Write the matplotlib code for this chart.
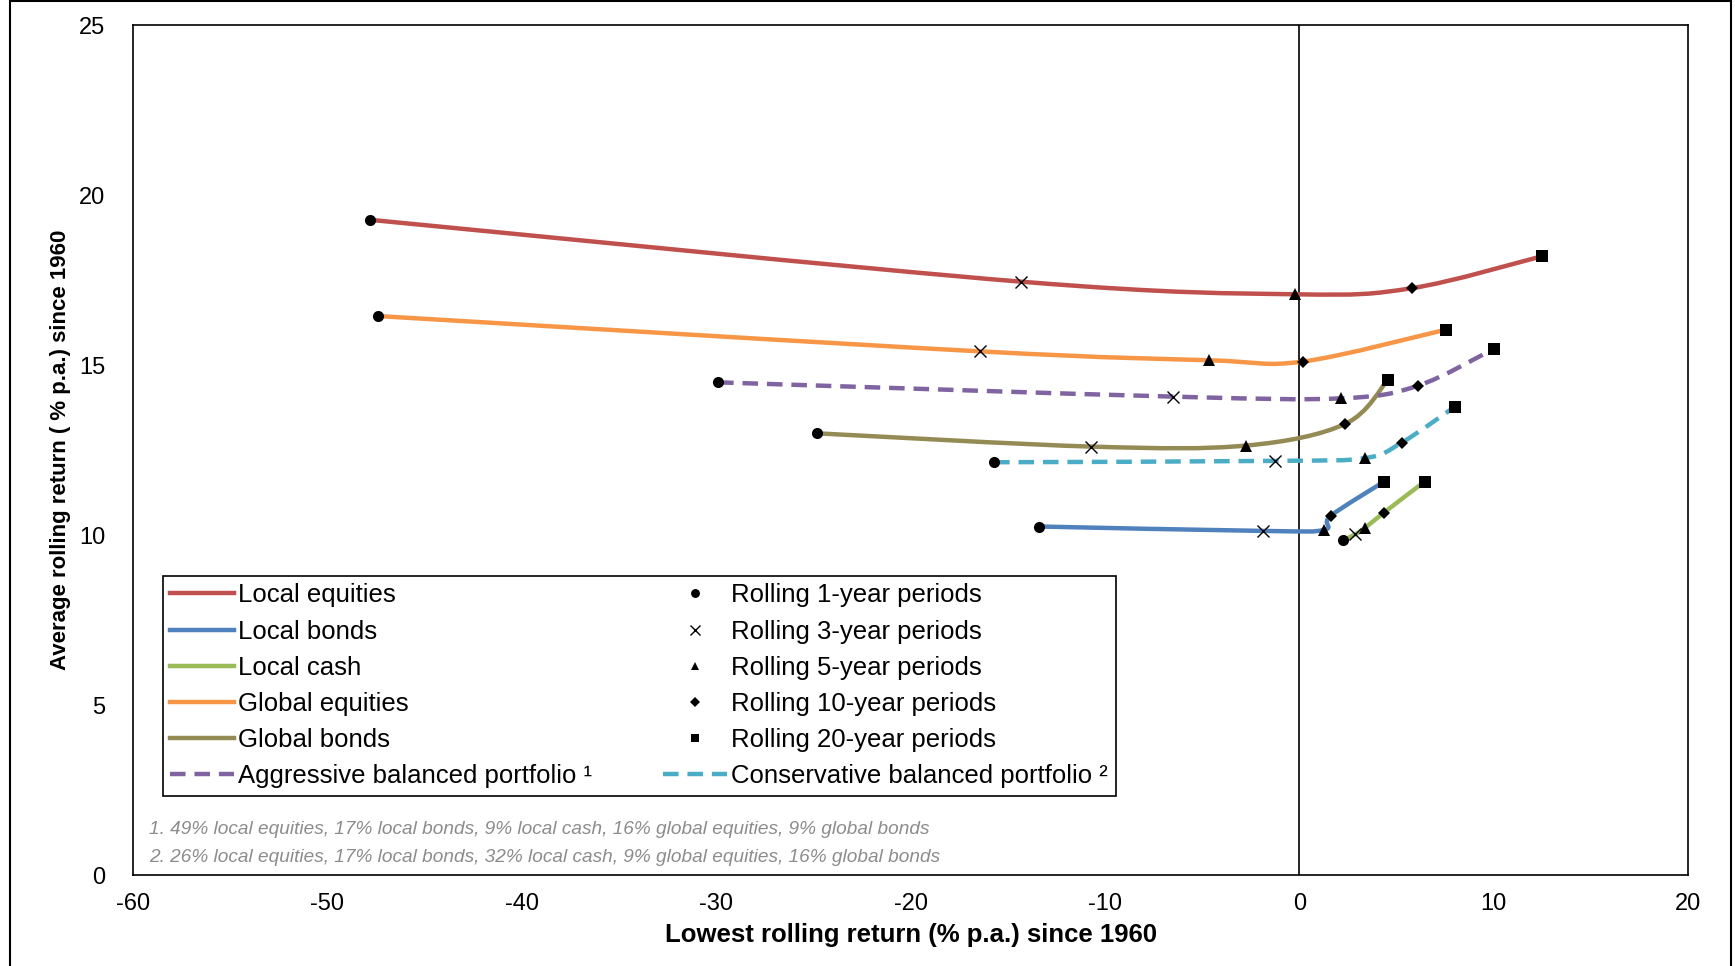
import numpy as np
import matplotlib.pyplot as plt
from matplotlib.path import Path
from matplotlib.patches import PathPatch, Rectangle
from matplotlib.lines import Line2D

# Points per series: rolling 1, 3, 5, 10 and 20-year periods
# x = lowest rolling return, y = average rolling return
local_equities_x = [-47.8, -14.3, -0.2, 5.8, 12.5]
local_equities_y = [19.27, 17.45, 17.08, 17.26, 18.2]
local_bonds_x = [-13.4, -1.84, 1.27, 1.61, 4.36]
local_bonds_y = [10.25, 10.12, 10.15, 10.56, 11.57]
local_cash_x = [2.26, 2.88, 3.36, 4.36, 6.45]
local_cash_y = [9.85, 10.02, 10.2, 10.66, 11.57]
global_equities_x = [-47.4, -16.4, -4.65, 0.17, 7.55]
global_equities_y = [16.44, 15.4, 15.14, 15.1, 16.04]
global_bonds_x = [-24.8, -10.7, -2.75, 2.37, 4.55]
global_bonds_y = [12.99, 12.6, 12.63, 13.27, 14.56]
aggressive_x = [-29.9, -6.5, 2.16, 6.1, 10.0]
aggressive_y = [14.49, 14.07, 14.02, 14.39, 15.47]
conservative_x = [-15.7, -1.27, 3.36, 5.28, 8.0]
conservative_y = [12.14, 12.18, 12.26, 12.72, 13.77]

series_names = ["Local equities", "Local bonds", "Local cash", "Global equities",
                "Global bonds", "Aggressive balanced portfolio \u00b9",
                "Conservative balanced portfolio \u00b2"]
series_x = [local_equities_x, local_bonds_x, local_cash_x, global_equities_x,
            global_bonds_x, aggressive_x, conservative_x]
series_y = [local_equities_y, local_bonds_y, local_cash_y, global_equities_y,
            global_bonds_y, aggressive_y, conservative_y]
series_colors = ["#C0504D", "#4F81BD", "#9BBB59", "#F79646", "#948A54", "#8064A2", "#4BACC6"]
series_dashed = [False, False, False, False, False, True, True]

period_names = ["Rolling 1-year periods", "Rolling 3-year periods", "Rolling 5-year periods",
                "Rolling 10-year periods", "Rolling 20-year periods"]
period_markers = ["o", "x", "^", "D", "s"]
period_sizes = [8, 9, 8, 6, 8]

footnotes = ["1. 49% local equities, 17% local bonds, 9% local cash, 16% global equities, 9% global bonds",
             "2. 26% local equities, 17% local bonds, 32% local cash, 9% global equities, 16% global bonds"]


def smooth_path(xs, ys):
    # Excel-style smoothed line: cubic bezier through the points
    p = np.column_stack([xs, ys])
    n = len(p)
    verts = [p[0]]
    codes = [Path.MOVETO]
    for i in range(n - 1):
        prev = p[i - 1] if i > 0 else p[i]
        nxt = p[i + 2] if i + 2 < n else p[i + 1]
        c1 = p[i] + (p[i + 1] - prev) / 6.0
        c2 = p[i + 1] - (nxt - p[i]) / 6.0
        verts += [c1, c2, p[i + 1]]
        codes += [Path.CURVE4] * 3
    return Path(verts, codes)


plt.rcParams['font.family'] = ["Liberation Sans", "DejaVu Sans"]
plt.rcParams['axes.unicode_minus'] = False
dash = (0, (3.5, 2))

fig = plt.figure(figsize=(17.35, 9.66), dpi=100)
ax = fig.add_axes([133 / 1735, 1 - 875 / 966, (1688 - 133) / 1735, (875 - 25) / 966])

# outer chart border
fig.add_artist(Rectangle((10 / 1735, -0.05), (1731 - 10) / 1735, 1.05 - 1.5 / 966,
                         transform=fig.transFigure, fill=False, edgecolor="black", lw=1.5))

ax.axvline(0, color="black", lw=1.2, zorder=1)

for xs, ys, c, d in zip(series_x, series_y, series_colors, series_dashed):
    patch = PathPatch(smooth_path(xs, ys), fill=False, edgecolor=c, lw=3.2,
                      linestyle=dash if d else "-", zorder=2)
    ax.add_patch(patch)
    for k in range(len(xs)):
        ax.plot(xs[k], ys[k], marker=period_markers[k], ms=period_sizes[k], color="black",
                mew=1 if period_markers[k] == "x" else 0, linestyle="none", zorder=3)

ax.set_xlim(-60, 20)
ax.set_ylim(0, 25)
ax.set_xticks(np.arange(-60, 21, 10))
ax.set_yticks(np.arange(0, 26, 5))
ax.tick_params(length=0, labelsize=17)
ax.tick_params(axis="x", pad=13)
ax.tick_params(axis="y", pad=20)
for s in ax.spines.values():
    s.set_linewidth(1.2)

ax.set_xlabel("Lowest rolling return (% p.a.) since 1960", fontsize=18.5, fontweight="bold", labelpad=6)
ax.set_ylabel("Average rolling return ( % p.a.) since 1960", fontsize=16, fontweight="bold",
              labelpad=6)

handles = []
labels = []
for name, c, d in zip(series_names[:6], series_colors[:6], series_dashed[:6]):
    handles.append(Line2D([], [], color=c, lw=3.2, linestyle=dash if d else "-"))
    labels.append(name)
for name, m, s in zip(period_names, period_markers, period_sizes):
    handles.append(Line2D([], [], color="black", marker=m, ms=s * 0.8, linestyle="none",
                          mew=1 if m == "x" else 0))
    labels.append(name)
handles.append(Line2D([], [], color=series_colors[6], lw=3.2, linestyle=dash))
labels.append(series_names[6])

leg = ax.legend(handles, labels, ncol=2, loc="lower left", bbox_to_anchor=(0.019, 0.0935),
                borderaxespad=0, frameon=True, fancybox=False, edgecolor="black", framealpha=1,
                prop={"size": 18.5}, handlelength=2.5, handletextpad=0.15,
                columnspacing=2.75, labelspacing=0.47, borderpad=0.3)
leg.get_frame().set_linewidth(1.2)

for i, t in enumerate(footnotes):
    ax.text(149 / 1735, 1 - (829.5 + 28 * i) / 966, t, transform=fig.transFigure,
            fontsize=13.7, style="italic", color="#8C8C8C", va="center")

fig.savefig("out.png", dpi=100)
